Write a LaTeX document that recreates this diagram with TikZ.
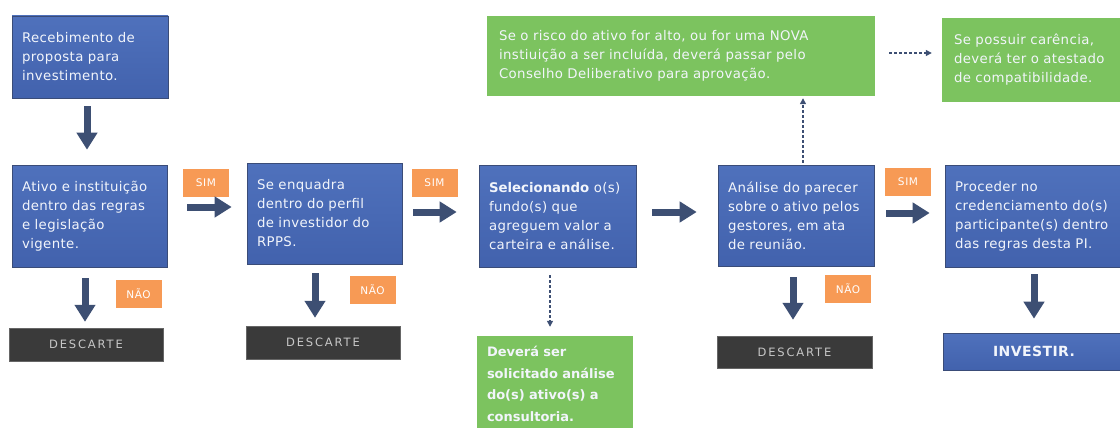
\documentclass[tikz,border=0pt]{standalone}
\usepackage{fontspec}
\setmainfont{DejaVu Sans}
\newfontfamily\bodyfont[LetterSpace=3]{DejaVu Sans}
\newfontfamily\tagfont[LetterSpace=6]{DejaVu Sans}
\newfontfamily\discfont[LetterSpace=16]{DejaVu Sans}
\usetikzlibrary{arrows.meta}
\definecolor{bluetop}{HTML}{4F71BC}
\definecolor{bluemid}{HTML}{7498DD}
\definecolor{bluebot}{HTML}{4262AD}
\definecolor{boxedge}{HTML}{3A4C78}
\definecolor{greenfill}{HTML}{7CC35F}
\definecolor{orangefill}{HTML}{F79A55}
\definecolor{darkfill}{HTML}{3A3A3A}
\definecolor{arrowc}{HTML}{3D4F73}
\definecolor{lighttext}{HTML}{F2F5FB}
\tikzset{
  bluebox/.style={draw=boxedge, line width=0.6pt, top color=bluetop, middle color=bluemid, bottom color=bluebot,
    text=lighttext, font=\bodyfont\fontsize{13.3}{19}\selectfont, align=left, inner xsep=10pt, inner ysep=0pt},
  greenbox/.style={fill=greenfill, text=lighttext, font=\bodyfont\fontsize{13.3}{19}\selectfont, align=left, inner xsep=12pt, inner ysep=0pt},
  darkbox/.style={fill=darkfill, draw=black!60, line width=0.4pt, text=black!22,
    font=\discfont\fontsize{11.5}{14}\selectfont, align=center, inner sep=0pt},
  tagbox/.style={fill=orangefill, text=white, font=\tagfont\fontsize{10.5}{12}\selectfont, align=center, inner sep=0pt,
    minimum width=46pt, minimum height=28pt},
  blockarrow/.style={draw=arrowc, line width=7pt, -{Triangle[width=20pt,length=17pt]}},
  dasharrow/.style={draw=arrowc, line width=1.3pt, dash pattern=on 3pt off 2pt, -{Triangle[width=6pt,length=6pt]}}
}
\begin{document}
\begin{tikzpicture}[x=1pt,y=-1pt]
\useasboundingbox (0,0) rectangle (1120,428);
% blue boxes
\node[bluebox, minimum width=156pt, minimum height=82pt, text width=136pt] (b1) at (90,57) {Recebimento de\\proposta para\\investimento.};
\node[bluebox, minimum width=155pt, minimum height=102pt, text width=135pt] (b2) at (89.5,216) {Ativo e instituição\\dentro das regras\\e legislação\\vigente.};
\node[bluebox, minimum width=155pt, minimum height=101pt, text width=135pt] (b3) at (324.5,213.5) {Se enquadra\\dentro do perfil\\de investidor do\\RPPS.};
\node[bluebox, minimum width=157pt, minimum height=102pt, text width=137pt] (b4) at (557.5,216) {{\rmfamily\bfseries Selecionando}~o(s)\\fundo(s) que\\agreguem valor a\\carteira e análise.};
\node[bluebox, minimum width=156pt, minimum height=101pt, text width=136pt] (b5) at (796,215.5) {Análise do parecer\\sobre o ativo pelos\\gestores, em ata\\de reunião.};
\node[bluebox, minimum width=190pt, minimum height=102pt, text width=170pt] (b6) at (1040,216) {Proceder no\\credenciamento do(s)\\participante(s) dentro\\das regras desta PI.};
\node[bluebox, align=center, font=\bodyfont\fontsize{14}{15}\selectfont\bfseries, minimum width=182pt, minimum height=37pt, text width=162pt] (inv) at (1034,351.5) {INVESTIR.};
% green boxes
\node[greenbox, minimum width=388pt, minimum height=80pt, text width=364pt] (g1) at (681,56) {Se o risco do ativo for alto, ou for uma NOVA\\instiuição a ser incluída, deverá passar pelo\\Conselho Deliberativo para aprovação.};
\node[greenbox, minimum width=190pt, minimum height=84pt, text width=166pt] (g2) at (1037,60) {Se possuir carência,\\deverá ter o atestado\\de compatibilidade.};
\node[greenbox, font=\rmfamily\fontsize{13}{21.5}\selectfont\bfseries, minimum width=156pt, minimum height=96pt, text width=136pt, inner xsep=10pt] (g3) at (555,384) {Deverá ser\\solicitado análise\\do(s) ativo(s) a\\consultoria.};
% discard boxes
\node[darkbox, minimum width=154pt, minimum height=33pt] (d1) at (86,344.5) {DESCARTE};
\node[darkbox, minimum width=154pt, minimum height=33pt] (d2) at (323,342.5) {DESCARTE};
\node[darkbox, minimum width=155pt, minimum height=32pt] (d3) at (794.5,352) {DESCARTE};
% tags
\node[tagbox] (sim1) at (206,182.5) {SIM};
\node[tagbox] (sim2) at (434.5,182.5) {SIM};
\node[tagbox] (sim3) at (908,181.5) {SIM};
\node[tagbox] (nao1) at (138.5,293.5) {NÃO};
\node[tagbox] (nao2) at (372.5,289.5) {NÃO};
\node[tagbox] (nao3) at (848,289) {NÃO};
% block arrows
\draw[blockarrow, shorten <=8pt, shorten >=15pt] ([xshift=-3pt]b1.south) -- ([xshift=-3pt]b1.south |- b2.north);
\draw[blockarrow, shorten <=11pt, shorten >=6pt] ([xshift=-4.5pt]b2.south) -- ([xshift=-4.5pt]b2.south |- d1.north);
\draw[blockarrow, shorten <=9pt, shorten >=8pt] ([xshift=-9.5pt]b3.south) -- ([xshift=-9.5pt]b3.south |- d2.north);
\draw[blockarrow, shorten <=11pt, shorten >=16pt] ([xshift=-3pt]b5.south) -- ([xshift=-3pt]b5.south |- d3.north);
\draw[blockarrow, shorten <=7pt, shorten >=14pt] ([xshift=-6pt]b6.south) -- ([xshift=-6pt]b6.south |- inv.north);
\draw[blockarrow, shorten <=20pt, shorten >=15pt] ([yshift=9pt]b2.east) -- ([yshift=9pt]b2.east -| b3.west);
\draw[blockarrow, shorten <=11pt, shorten >=22pt] ([yshift=1.5pt]b3.east) -- ([yshift=1.5pt]b3.east -| b4.west);
\draw[blockarrow, shorten <=16pt, shorten >=21pt] ([yshift=4pt]b4.east) -- ([yshift=4pt]b4.east -| b5.west);
\draw[blockarrow, shorten <=12pt, shorten >=15pt] ([yshift=2.5pt]b5.east) -- ([yshift=2.5pt]b5.east -| b6.west);
% dashed arrows
\draw[dasharrow, shorten <=8pt, shorten >=9pt] ([xshift=-7.5pt]b4.south) -- ([xshift=-7.5pt]b4.south |- g3.north);
\draw[dasharrow, shorten <=2pt, shorten >=2pt] ([xshift=7pt]b5.north) -- ([xshift=7pt]b5.north |- g1.south);
\draw[dasharrow, shorten <=14pt, shorten >=10pt] ([yshift=3pt]g1.east) -- ([yshift=3pt]g1.east -| g2.west);
\end{tikzpicture}
\end{document}
